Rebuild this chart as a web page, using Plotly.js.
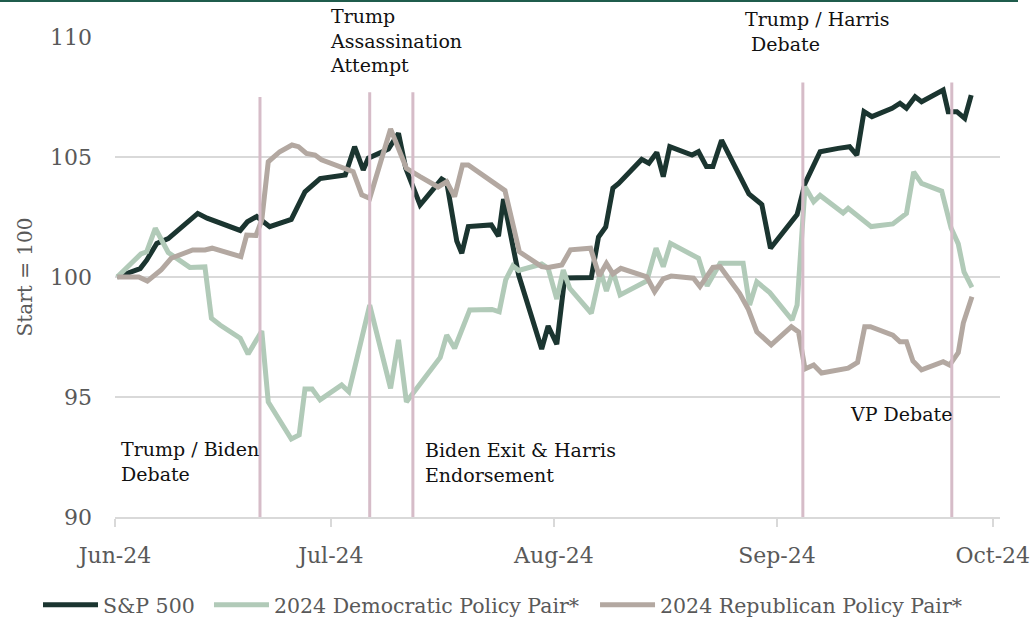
<!DOCTYPE html>
<html>
<head>
<meta charset="utf-8">
<script src="https://cdn.plot.ly/plotly-3.0.1.min.js"></script>
<style>
  html, body { margin: 0; padding: 0; background: #ffffff; }
  #wrap { position: relative; width: 1030px; height: 623px; }
  #topbar { position: absolute; left: 0; top: 0; width: 1018px; height: 2px; background: #1f5c4c; z-index: 5; }
  #chart { position: absolute; left: 0; top: 0; width: 1030px; height: 623px; }
</style>
</head>
<body>
<div id="wrap"><div id="topbar"></div><div id="chart"></div></div>
<script>
// x values: days since 1 Jun 2024
const tickDays = [0, 30, 61, 92, 122];
const tickLabels = ['Jun-24', 'Jul-24', 'Aug-24', 'Sep-24', 'Oct-24'];

const spDay = [0.3,3.5,4.4,5.8,7.4,9.3,11.5,12.8,14.6,17.4,18.4,19.7,21.5,24.5,26.4,28.5,32.0,33.3,34.5,35.2,38.0,39.4,40.4,42.4,45.4,46.1,47.5,48.2,49.1,52.3,53.3,54.0,56.1,59.3,60.2,61.4,62.5,66.2,67.2,68.2,69.2,70.0,73.2,74.2,75.3,76.2,77.1,80.2,81.1,82.2,83.1,84.3,88.1,89.9,91.1,94.8,95.9,98.0,100.5,102.1,103.1,104.1,105.2,108.0,109.1,110.0,111.2,112.1,115.1,115.8,117.0,118.1,119.0];
const spVal = [100.0,100.35,100.7,101.4,101.6,102.1,102.65,102.45,102.24,101.94,102.3,102.52,102.1,102.4,103.55,104.1,104.25,105.43,104.46,104.95,105.33,105.99,104.54,103.0,104.08,103.96,101.5,100.99,102.1,102.17,101.7,103.25,100.08,97.0,97.96,97.2,99.96,99.98,101.67,102.08,103.7,103.9,104.9,104.74,105.19,104.18,105.43,105.08,105.22,104.6,104.6,105.7,103.46,103.02,101.2,102.6,103.9,105.22,105.36,105.43,105.08,106.89,106.68,107.03,107.24,107.03,107.51,107.3,107.79,106.89,106.89,106.61,107.58];

const demDay = [0.3,3.6,4.4,5.6,7.4,10.4,12.5,13.4,14.6,17.4,18.5,20.4,21.3,24.5,25.6,26.4,27.4,28.5,31.5,32.5,33.3,35.4,38.3,39.4,40.5,42.1,45.2,46.1,47.2,49.3,52.4,53.4,54.3,55.3,56.1,59.3,60.2,61.4,62.3,63.2,66.2,67.5,68.3,69.2,70.2,73.9,75.2,76.2,77.2,81.1,82.3,84.1,87.3,88.2,89.2,91.0,94.1,94.8,95.9,97.1,98.0,101.2,101.9,105.1,108.1,110.0,111.0,112.1,114.9,116.2,117.2,118.0,119.1];
const demVal = [100.0,100.96,101.05,102.03,101.02,100.4,100.42,98.28,98.0,97.45,96.79,97.75,94.79,93.25,93.42,95.33,95.33,94.88,95.5,95.22,96.2,98.83,95.36,97.38,94.79,95.43,96.65,97.58,97.03,98.63,98.65,98.55,99.88,100.46,100.27,100.54,100.36,99.08,100.29,99.53,98.49,100.23,99.42,100.23,99.25,99.83,101.2,100.43,101.4,100.78,99.63,100.57,100.57,98.83,99.8,99.35,98.21,98.83,103.76,103.14,103.4,102.67,102.86,102.1,102.21,102.65,104.38,103.9,103.58,102.04,101.38,100.21,99.57];

const repDay = [0.3,3.3,4.5,6.4,7.8,10.8,12.5,13.5,17.5,18.3,19.6,20.4,21.3,22.9,24.6,25.5,26.6,27.8,28.7,31.7,33.1,34.3,35.4,38.3,40.5,42.4,44.9,46.1,47.2,48.3,49.1,54.2,56.2,59.3,60.2,62.1,63.3,66.1,67.3,68.3,69.2,70.3,73.9,75.0,76.2,77.3,80.4,81.3,83.1,84.1,86.8,88.0,89.2,91.2,94.0,95.0,95.9,97.1,98.2,101.9,103.2,104.2,105.0,108.1,109.1,110.0,110.9,112.1,115.1,116.0,117.2,117.9,119.1];
const repVal = [100.0,100.0,99.83,100.29,100.78,101.13,101.13,101.2,100.85,101.75,101.73,102.38,104.8,105.22,105.5,105.43,105.15,105.08,104.88,104.53,104.39,103.42,103.28,106.17,104.53,104.18,103.75,103.97,103.35,104.67,104.67,103.6,101.05,100.43,100.4,100.5,101.13,101.2,100.04,100.57,100.13,100.36,100.01,99.39,99.92,100.04,99.95,99.6,100.4,100.43,99.32,98.67,97.72,97.17,97.93,97.71,96.17,96.33,96.0,96.2,96.44,97.93,97.93,97.58,97.3,97.3,96.5,96.13,96.47,96.33,96.85,98.08,99.18];

const eventDay = [20.15, 35.4, 41.4, 95.6, 116.3];
const eventTop = [107.5, 107.7, 107.7, 108.1, 108.1];
const eventText = ['Trump / Biden<br>Debate', 'Trump<br>Assassination<br>Attempt', 'Biden Exit &amp; Harris<br>Endorsement', 'Trump / Harris<br> Debate', 'VP Debate'];

const seriesNames = ['S&P 500', '2024 Democratic Policy Pair*', '2024 Republican Policy Pair*'];
const seriesColors = ['#1b3530', '#b1cab8', '#b3a8a1'];

const FONT = 'DejaVu Serif, Liberation Serif, serif';

const legendIds = ['legend', 'legend2', 'legend3'];
const traces = [
  {x: spDay, y: spVal, name: seriesNames[0], legend: legendIds[0], type: 'scatter', mode: 'lines', line: {color: seriesColors[0], width: 5}},
  {x: demDay, y: demVal, name: seriesNames[1], legend: legendIds[1], type: 'scatter', mode: 'lines', line: {color: seriesColors[1], width: 5}},
  {x: repDay, y: repVal, name: seriesNames[2], legend: legendIds[2], type: 'scatter', mode: 'lines', line: {color: seriesColors[2], width: 5}}
];

const shapes = eventDay.map((d, i) => ({
  type: 'line', xref: 'x', yref: 'y', x0: d, x1: d, y0: 90, y1: eventTop[i],
  line: {color: '#d6bcc8', width: 3}, layer: 'above'
}));

// annotation placement (layout only; y in paper units)
const annPos = [
  {x: 0.55, y: 0.168}, {x: 29.6, y: 1.070}, {x: 42.8, y: 0.166}, {x: 87.3, y: 1.064}, {x: 101.9, y: 0.242}
];
const annotations = eventText.map((t, i) => ({
  text: t, xref: 'x', yref: 'paper', x: annPos[i].x, y: annPos[i].y,
  xanchor: 'left', yanchor: 'top', align: 'left', showarrow: false,
  font: {family: FONT, size: 19, color: '#111111'}
}));

const legendX = [-0.087, 0.1062, 0.5424];
function legendCfg(x) {
  return {orientation: 'h', x: x, xanchor: 'left', y: -0.183, yanchor: 'middle',
          font: {family: FONT, size: 20.5, color: '#595959'}, itemwidth: 55,
          bgcolor: 'rgba(0,0,0,0)'};
}

const layout = {
  width: 1030, height: 623,
  margin: {l: 115, r: 30, t: 37, b: 106, autoexpand: false},
  paper_bgcolor: '#ffffff', plot_bgcolor: '#ffffff',
  font: {family: FONT, color: '#595959'},
  showlegend: true,
  legend: legendCfg(legendX[0]),
  legend2: legendCfg(legendX[1]),
  legend3: legendCfg(legendX[2]),
  xaxis: {
    range: [0, 123], tickmode: 'array', tickvals: tickDays, ticktext: tickLabels,
    showgrid: false, zeroline: false, showline: true, linecolor: '#d9d9d9', linewidth: 2,
    ticks: 'outside', ticklen: 8, tickwidth: 2, tickcolor: '#d9d9d9',
    tickfont: {family: FONT, size: 22, color: '#595959'}, ticklabelstandoff: 10,
    ticklabeloverflow: 'allow'
  },
  yaxis: {
    range: [90, 110], dtick: 5, tick0: 90, showgrid: true, gridcolor: '#d9d9d9', gridwidth: 2,
    zeroline: false, showline: false, ticks: '',
    tickfont: {family: FONT, size: 22, color: '#595959'}, ticklabelstandoff: 22,
    title: {text: 'Start = 100', font: {family: FONT, size: 20, color: '#595959'}, standoff: 12}
  },
  shapes: shapes,
  annotations: annotations
};

Plotly.newPlot('chart', traces, layout, {displayModeBar: false, staticPlot: true});
</script>
</body>
</html>
